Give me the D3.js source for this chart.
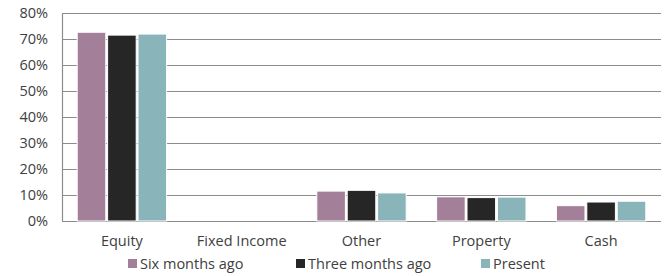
<!DOCTYPE html>
<html><head><meta charset="utf-8">
<script src="https://cdn.jsdelivr.net/npm/d3@7/dist/d3.min.js"></script>
<style>body{margin:0;background:#fff}svg{display:block}text{font-family:"Open Sans",Lato,sans-serif;fill:#404040}</style>
</head><body><svg id="c" width="667" height="276"></svg>
<script>
const categories = ["Equity","Fixed Income","Other","Property","Cash"];
const seriesNames = ["Six months ago","Three months ago","Present"];
const sixMonths = [72.6, 0, 11.5, 9.3, 5.9];
const threeMonths = [71.5, 0, 11.8, 9.0, 7.3];
const present = [71.9, 0, 10.8, 9.2, 7.6];
const yTicks = [0,10,20,30,40,50,60,70,80];
const colors = ["#a47f9a","#262626","#89b4b9"];
const series = [sixMonths, threeMonths, present];

const svg = d3.select("#c");
const m = {l:62, r:6, t:13, b:55};
const W = 667, H = 276;
const FS = 14.5;
const x = d3.scaleBand().domain(categories).range([m.l, W-m.r]).paddingInner(0).paddingOuter(0);
const xi = d3.scaleBand().domain(seriesNames).range([0, x.bandwidth()]).paddingInner(0.06).paddingOuter(0.5);
const y = d3.scaleLinear().domain([0,80]).range([H-m.b, m.t]);

const g = svg.append("g");
g.selectAll("line.grid").data(yTicks).join("line")
  .attr("x1", m.l).attr("x2", W-m.r)
  .attr("y1", d=>y(d)+0.5).attr("y2", d=>y(d)+0.5)
  .attr("stroke","#8c8c8c").attr("stroke-width",1.2);
g.append("line").attr("x1",m.l+0.5).attr("x2",m.l+0.5).attr("y1",y(80)).attr("y2",y(0)+0.5).attr("stroke","#8c8c8c").attr("stroke-width",1.2);

g.selectAll("text.yt").data(yTicks).join("text")
  .attr("x", 48).attr("y", d=>y(d)).attr("dy","0.35em").attr("text-anchor","end")
  .attr("font-size",FS).text(d=>d+"%");

seriesNames.forEach((s,si)=>{
  g.selectAll("rect.s"+si).data(categories).join("rect")
    .attr("x", c=>x(c)+xi(s)).attr("width", xi.bandwidth())
    .attr("y", (c,i)=>y(series[si][i])).attr("height",(c,i)=>y(0)-y(series[si][i]))
    .attr("fill", colors[si]).attr("stroke","#fff").attr("stroke-width",1);
});

g.selectAll("text.xt").data(categories).join("text")
  .attr("x", c=>x(c)+x.bandwidth()/2).attr("y", 241).attr("dy","0.35em").attr("text-anchor","middle")
  .attr("font-size",FS).text(c=>c);

const legX = [128, 296, 481];
seriesNames.forEach((s,si)=>{
  g.append("rect").attr("x",legX[si]).attr("y",259).attr("width",9).attr("height",9).attr("fill",colors[si]);
  g.append("text").attr("x",legX[si]+12).attr("y",264).attr("dy","0.35em").attr("font-size",FS).text(s);
});
</script></body></html>
